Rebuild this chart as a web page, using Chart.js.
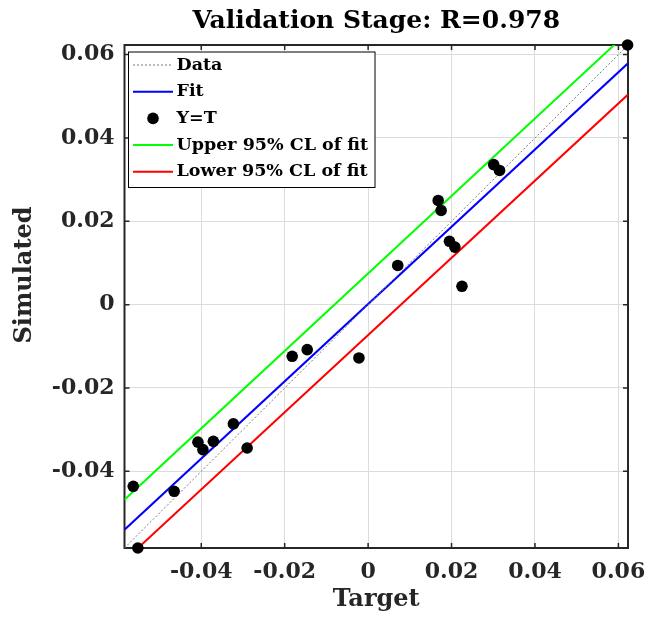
<!DOCTYPE html>
<html>
<head>
<meta charset="utf-8">
<style>
  html, body { margin: 0; padding: 0; background: #fff; }
  #wrap { width: 648px; height: 626px; }
</style>
<script src="https://cdn.jsdelivr.net/npm/chart.js@4.4.1/dist/chart.umd.min.js"></script>
</head>
<body>
<div id="wrap"><canvas id="c" width="648" height="626"></canvas></div>
<script>
// values
const targetVals = [-0.0563, -0.0552, -0.0465, -0.0408, -0.0396, -0.0371, -0.0323, -0.0290, -0.0182, -0.0146,
                    -0.0022, 0.0071, 0.0168, 0.0175, 0.0195, 0.0208, 0.0225, 0.0301, 0.0315, 0.0622];
const simulatedVals = [-0.0436, -0.0584, -0.0448, -0.0330, -0.0348, -0.0328, -0.0286, -0.0344, -0.0124, -0.0108,
                       -0.0128, 0.0094, 0.0250, 0.0226, 0.0152, 0.0138, 0.0044, 0.0336, 0.0322, 0.0623];
const axisLimits = [-0.0584, 0.0623];
// line ends (y at left and right axis limit)
const dataEnds = [-0.0584, 0.0623];
const fitEnds = [-0.0540, 0.0579];
const upperEnds = [-0.0468, 0.0654];
const lowerEnds = [-0.0614, 0.0504];
const seriesNames = ['Data', 'Fit', 'Y=T', 'Upper 95% CL of fit', 'Lower 95% CL of fit'];
const chartTitle = 'Validation Stage: R=0.978';
const xTitle = 'Target';
const yTitle = 'Simulated';

const FONT = "'DejaVu Serif', serif";
const ink = '#262626';

const ends = v => [{ x: axisLimits[0], y: v[0] }, { x: axisLimits[1], y: v[1] }];
const pts = targetVals.map((t, i) => ({ x: t, y: simulatedVals[i] }));

function lineSet(label, vals, color, width, dash) {
  return {
    label, data: ends(vals), showLine: true, borderColor: color, backgroundColor: color,
    borderWidth: width, borderDash: dash || [], pointRadius: 0, pointHoverRadius: 0, order: 2
  };
}

const frame = {
  id: 'frame',
  beforeDatasetsDraw(chart) {
    const { ctx, chartArea: a, scales: { x, y } } = chart;
    ctx.save();
    ctx.strokeStyle = ink;
    ctx.lineWidth = 1.5;
    x.ticks.forEach(t => {
      const px = x.getPixelForValue(t.value);
      ctx.beginPath();
      ctx.moveTo(px, a.bottom); ctx.lineTo(px, a.bottom - 5);
      ctx.moveTo(px, a.top); ctx.lineTo(px, a.top + 5);
      ctx.stroke();
    });
    y.ticks.forEach(t => {
      const py = y.getPixelForValue(t.value);
      ctx.beginPath();
      ctx.moveTo(a.left, py); ctx.lineTo(a.left + 5, py);
      ctx.moveTo(a.right, py); ctx.lineTo(a.right - 5, py);
      ctx.stroke();
    });
    ctx.lineWidth = 2;
    ctx.strokeRect(a.left, a.top, a.right - a.left, a.bottom - a.top);

    // y axis title
    ctx.translate(25, 275);
    ctx.rotate(-Math.PI / 2);
    ctx.font = 'bold 24px ' + FONT;
    ctx.fillStyle = ink;
    ctx.textAlign = 'center';
    ctx.textBaseline = 'middle';
    ctx.fillText(yTitle, 0, 0);
    ctx.restore();
  },
  afterDraw(chart) {
    const { ctx } = chart;
    const box = { l: 128.5, t: 52, r: 375, b: 187.5 };
    ctx.save();
    ctx.fillStyle = '#fff';
    ctx.fillRect(box.l, box.t, box.r - box.l, box.b - box.t);
    ctx.strokeStyle = '#000';
    ctx.lineWidth = 1;
    ctx.strokeRect(box.l, box.t, box.r - box.l, box.b - box.t);
    ctx.font = 'bold 17.5px ' + FONT;
    ctx.textBaseline = 'middle';
    chart.data.datasets.forEach((ds, i) => {
      const cy = 65 + i * 26.7;
      if (ds.showLine) {
        ctx.strokeStyle = ds.borderColor;
        ctx.lineWidth = ds.borderWidth;
        ctx.setLineDash(ds.borderDash);
        ctx.beginPath();
        ctx.moveTo(133, cy); ctx.lineTo(173, cy);
        ctx.stroke();
        ctx.setLineDash([]);
      } else {
        ctx.fillStyle = ds.backgroundColor;
        ctx.beginPath();
        ctx.arc(153, cy, ds.pointRadius, 0, Math.PI * 2);
        ctx.fill();
      }
      ctx.fillStyle = '#000';
      ctx.fillText(ds.label, 176.5, cy);
    });
    ctx.restore();
  }
};

const tickFmt = v => Number(v.toFixed(2)).toString();

new Chart(document.getElementById('c'), {
  type: 'scatter',
  data: {
    datasets: [
      lineSet(seriesNames[0], dataEnds, '#7a7a7a', 1, [2, 2]),
      lineSet(seriesNames[1], fitEnds, '#0000ff', 2),
      {
        label: seriesNames[2], data: pts, backgroundColor: '#000', borderColor: '#000',
        pointRadius: 5.8, pointHoverRadius: 5.8, borderWidth: 0, clip: false, order: 1
      },
      lineSet(seriesNames[3], upperEnds, '#00ff00', 2),
      lineSet(seriesNames[4], lowerEnds, '#ff0000', 2)
    ]
  },
  options: {
    responsive: false,
    animation: false,
    devicePixelRatio: 1,
    layout: { padding: { left: 0, right: 20, top: 0, bottom: 8 } },
    plugins: {
      legend: { display: false },
      tooltip: { enabled: false },
      title: {
        display: true, text: chartTitle, fullSize: false, color: '#000',
        font: { family: FONT, size: 25, weight: 'bold' },
        padding: { top: 6, bottom: 9 }
      }
    },
    scales: {
      x: {
        type: 'linear', min: axisLimits[0], max: axisLimits[1],
        grid: { color: '#dcdcdc', drawTicks: false },
        border: { display: false },
        ticks: {
          stepSize: 0.02, includeBounds: false, padding: 11, color: ink,
          font: { family: FONT, size: 22, weight: 'bold' }, callback: tickFmt, maxRotation: 0
        },
        title: { display: true, text: xTitle, color: ink, font: { family: FONT, size: 24, weight: 'bold' } },
        afterFit(s) { s.height = 70; s.paddingLeft = 0; s.paddingRight = 0; }
      },
      y: {
        type: 'linear', min: axisLimits[0], max: axisLimits[1],
        grid: { color: '#dcdcdc', drawTicks: false },
        border: { display: false },
        ticks: {
          stepSize: 0.02, includeBounds: false, padding: 10, color: ink,
          font: { family: FONT, size: 22, weight: 'bold' }, callback: tickFmt
        },
        afterFit(s) { s.width = 124.5; s.paddingTop = 0; s.paddingBottom = 0; }
      }
    }
  },
  plugins: [frame]
});
</script>
</body>
</html>
